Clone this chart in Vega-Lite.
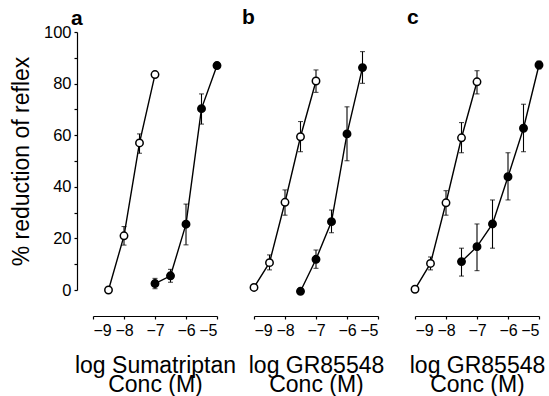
{
  "$schema": "https://vega.github.io/schema/vega-lite/v6.json",
  "padding": {"left": 10, "top": 7, "right": 5, "bottom": 0},
  "bounds": "flush",
  "spacing": 37,
  "background": "white",
  "config": {
    "font": "Liberation Sans",
    "view": {"stroke": null},
    "axis": {"grid": false, "domainColor": "black", "tickColor": "black", "labelColor": "black", "titleColor": "black", "domainWidth": 1.2, "tickWidth": 1.2, "labelFont": "Liberation Sans", "titleFont": "Liberation Sans"},
    "title": {"font": "Liberation Sans", "color": "black", "frame": "group", "anchor": "start", "fontSize": 21, "fontWeight": "bold", "offset": 4}
  },
  "datasets": {
    "pts": [
      {"panel": "a", "series": "open", "x": -8.5, "y": 0, "lo": 0, "hi": 0},
      {"panel": "a", "series": "open", "x": -8, "y": 21, "lo": 17.4, "hi": 24.6},
      {"panel": "a", "series": "open", "x": -7.5, "y": 57, "lo": 53, "hi": 60.5},
      {"panel": "a", "series": "open", "x": -7, "y": 83.5, "lo": 83.5, "hi": 83.5},
      {"panel": "a", "series": "filled", "x": -7, "y": 2.5, "lo": 0.5, "hi": 4.5},
      {"panel": "a", "series": "filled", "x": -6.5, "y": 5.5, "lo": 3, "hi": 8},
      {"panel": "a", "series": "filled", "x": -6, "y": 25.5, "lo": 17.5, "hi": 33.3},
      {"panel": "a", "series": "filled", "x": -5.5, "y": 70.3, "lo": 64.3, "hi": 76},
      {"panel": "a", "series": "filled", "x": -5, "y": 87, "lo": 87, "hi": 87},
      {"panel": "b", "series": "open", "x": -9, "y": 1, "lo": 1, "hi": 1},
      {"panel": "b", "series": "open", "x": -8.5, "y": 10.6, "lo": 7.8, "hi": 13.6},
      {"panel": "b", "series": "open", "x": -8, "y": 34, "lo": 29, "hi": 38.8},
      {"panel": "b", "series": "open", "x": -7.5, "y": 59.4, "lo": 53.6, "hi": 65.3},
      {"panel": "b", "series": "open", "x": -7, "y": 81, "lo": 76.6, "hi": 85.3},
      {"panel": "b", "series": "filled", "x": -7.5, "y": -0.5, "lo": -0.5, "hi": -0.5},
      {"panel": "b", "series": "filled", "x": -7, "y": 11.9, "lo": 8.4, "hi": 15.5},
      {"panel": "b", "series": "filled", "x": -6.5, "y": 26.5, "lo": 22.2, "hi": 31},
      {"panel": "b", "series": "filled", "x": -6, "y": 60.5, "lo": 50.1, "hi": 71},
      {"panel": "b", "series": "filled", "x": -5.5, "y": 86.2, "lo": 80.1, "hi": 92.4},
      {"panel": "c", "series": "open", "x": -9, "y": 0.3, "lo": 0.3, "hi": 0.3},
      {"panel": "c", "series": "open", "x": -8.5, "y": 10.3, "lo": 7.8, "hi": 12.8},
      {"panel": "c", "series": "open", "x": -8, "y": 33.8, "lo": 29, "hi": 38.5},
      {"panel": "c", "series": "open", "x": -7.5, "y": 59, "lo": 53.2, "hi": 64.9},
      {"panel": "c", "series": "open", "x": -7, "y": 80.7, "lo": 76, "hi": 85},
      {"panel": "c", "series": "filled", "x": -7.5, "y": 11, "lo": 5.4, "hi": 16.2},
      {"panel": "c", "series": "filled", "x": -7, "y": 16.8, "lo": 7.5, "hi": 25.6},
      {"panel": "c", "series": "filled", "x": -6.5, "y": 25.6, "lo": 16.2, "hi": 34.9},
      {"panel": "c", "series": "filled", "x": -6, "y": 43.9, "lo": 34.9, "hi": 53.2},
      {"panel": "c", "series": "filled", "x": -5.5, "y": 62.7, "lo": 53.6, "hi": 72},
      {"panel": "c", "series": "filled", "x": -5, "y": 87.2, "lo": 85.7, "hi": 88.7}
    ]
  },
  "hconcat": [
    {
      "width": 124, "height": 258,
      "title": {"text": "a", "dx": -22, "offset": -5},
      "data": {"name": "pts"},
      "transform": [{"filter": "datum.panel === 'a'"}],
      "encoding": {
        "x": {"field": "x", "type": "quantitative", "scale": {"domain": [-9, -5]},
          "axis": {"title": ["log Sumatriptan", "Conc (M)"], "values": [-9, -8, -7, -6, -5], "format": "d", "offset": 26, "tickSize": 3, "labelPadding": 3, "labelFontSize": 16, "titleFontSize": 23, "titleFontWeight": "normal", "titleLineHeight": 19, "titlePadding": 16}}
      },
      "layer": [
        {"mark": {"type": "line", "color": "black", "strokeWidth": 1.4},
         "encoding": {"y": {"field": "y", "type": "quantitative", "scale": {"domain": [0, 100]},
           "axis": {"title": "% reduction of reflex", "values": [0, 10, 20, 30, 40, 50, 60, 70, 80, 90, 100], "labelExpr": "datum.value % 20 === 0 ? datum.label : ''", "offset": 16, "tickSize": 3, "labelPadding": 3, "labelFontSize": 16.5, "titleFontSize": 23, "titleFontWeight": "normal", "titlePadding": 10}},
           "detail": {"field": "series"}}},
        {"mark": {"type": "errorbar", "color": "black", "ticks": {"size": 5, "thickness": 1.1, "color": "black"}, "rule": {"strokeWidth": 1.1, "color": "black"}},
         "encoding": {"y": {"field": "lo", "type": "quantitative", "scale": {"domain": [0, 100]},
           "axis": {"title": "% reduction of reflex", "values": [0, 10, 20, 30, 40, 50, 60, 70, 80, 90, 100], "labelExpr": "datum.value % 20 === 0 ? datum.label : ''", "offset": 16, "tickSize": 3, "labelPadding": 3, "labelFontSize": 16.5, "titleFontSize": 23, "titleFontWeight": "normal", "titlePadding": 10}},
           "y2": {"field": "hi"}, "detail": {"field": "series"}}},
        {"mark": {"type": "point", "shape": "circle", "filled": true, "size": 55, "stroke": "black", "strokeWidth": 1.5, "opacity": 1},
         "encoding": {"y": {"field": "y", "type": "quantitative", "scale": {"domain": [0, 100]},
           "axis": {"title": "% reduction of reflex", "values": [0, 10, 20, 30, 40, 50, 60, 70, 80, 90, 100], "labelExpr": "datum.value % 20 === 0 ? datum.label : ''", "offset": 16, "tickSize": 3, "labelPadding": 3, "labelFontSize": 16.5, "titleFontSize": 23, "titleFontWeight": "normal", "titlePadding": 10}},
           "fill": {"field": "series", "type": "nominal", "scale": {"domain": ["open", "filled"], "range": ["white", "black"]}, "legend": null}}}
      ]
    },
    {
      "width": 124, "height": 258,
      "title": {"text": "b", "dx": -12},
      "data": {"name": "pts"},
      "transform": [{"filter": "datum.panel === 'b'"}],
      "encoding": {
        "x": {"field": "x", "type": "quantitative", "scale": {"domain": [-9, -5]},
          "axis": {"title": ["log GR85548", "Conc (M)"], "values": [-9, -8, -7, -6, -5], "format": "d", "offset": 26, "tickSize": 3, "labelPadding": 3, "labelFontSize": 16, "titleFontSize": 23, "titleFontWeight": "normal", "titleLineHeight": 19, "titlePadding": 16}}
      },
      "layer": [
        {"mark": {"type": "line", "color": "black", "strokeWidth": 1.4},
         "encoding": {"y": {"field": "y", "type": "quantitative", "scale": {"domain": [0, 100]}, "axis": null}, "detail": {"field": "series"}}},
        {"mark": {"type": "errorbar", "color": "black", "ticks": {"size": 5, "thickness": 1.1, "color": "black"}, "rule": {"strokeWidth": 1.1, "color": "black"}},
         "encoding": {"y": {"field": "lo", "type": "quantitative", "scale": {"domain": [0, 100]}, "axis": null}, "y2": {"field": "hi"}, "detail": {"field": "series"}}},
        {"mark": {"type": "point", "shape": "circle", "filled": true, "size": 55, "stroke": "black", "strokeWidth": 1.5, "opacity": 1},
         "encoding": {"y": {"field": "y", "type": "quantitative", "scale": {"domain": [0, 100]}, "axis": null},
           "fill": {"field": "series", "type": "nominal", "scale": {"domain": ["open", "filled"], "range": ["white", "black"]}, "legend": null}}}
      ]
    },
    {
      "width": 124, "height": 258,
      "title": {"text": "c", "dx": -8},
      "data": {"name": "pts"},
      "transform": [{"filter": "datum.panel === 'c'"}],
      "encoding": {
        "x": {"field": "x", "type": "quantitative", "scale": {"domain": [-9, -5]},
          "axis": {"title": ["log GR85548", "Conc (M)"], "values": [-9, -8, -7, -6, -5], "format": "d", "offset": 26, "tickSize": 3, "labelPadding": 3, "labelFontSize": 16, "titleFontSize": 23, "titleFontWeight": "normal", "titleLineHeight": 19, "titlePadding": 16}}
      },
      "layer": [
        {"mark": {"type": "line", "color": "black", "strokeWidth": 1.4},
         "encoding": {"y": {"field": "y", "type": "quantitative", "scale": {"domain": [0, 100]}, "axis": null}, "detail": {"field": "series"}}},
        {"mark": {"type": "errorbar", "color": "black", "ticks": {"size": 5, "thickness": 1.1, "color": "black"}, "rule": {"strokeWidth": 1.1, "color": "black"}},
         "encoding": {"y": {"field": "lo", "type": "quantitative", "scale": {"domain": [0, 100]}, "axis": null}, "y2": {"field": "hi"}, "detail": {"field": "series"}}},
        {"mark": {"type": "point", "shape": "circle", "filled": true, "size": 55, "stroke": "black", "strokeWidth": 1.5, "opacity": 1},
         "encoding": {"y": {"field": "y", "type": "quantitative", "scale": {"domain": [0, 100]}, "axis": null},
           "fill": {"field": "series", "type": "nominal", "scale": {"domain": ["open", "filled"], "range": ["white", "black"]}, "legend": null}}}
      ]
    }
  ]
}
